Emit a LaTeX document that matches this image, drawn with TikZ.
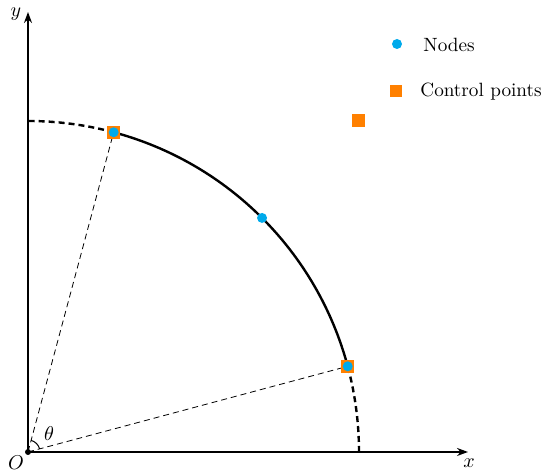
\documentclass[tikz,border=0pt]{standalone}
\usetikzlibrary{arrows.meta}
\definecolor{nodeblue}{RGB}{0,170,235}
\definecolor{ctrlorange}{RGB}{255,128,0}
\begin{document}
\begin{tikzpicture}[x=0.5pt,y=0.5pt,
  axis/.style={line width=0.8pt,-{Stealth[length=5.5pt,width=4pt]}},
  arcsolid/.style={line width=1.2pt},
  arcdash/.style={line width=1.2pt,dash pattern=on 3pt off 2pt},
  radial/.style={line width=0.4pt,dash pattern=on 3pt off 2pt},
  ndot/.style={circle,fill=nodeblue,inner sep=0pt,minimum size=5pt},
  cpt/.style={rectangle,fill=ctrlorange,inner sep=0pt,minimum size=6.5pt},
  lbl/.style={inner sep=0pt,font=\fontsize{9.6}{11}\selectfont}]
\useasboundingbox (-28,-22) rectangle (515,452);
% axes
\coordinate (O) at (0,0);
\coordinate (X) at (440,0);
\coordinate (Y) at (0,440);
\draw[axis] (O) -- (X);
\draw[axis] (O) -- (Y);
\node[lbl] (xl) at (441,-11) {$x$};
\node[lbl] (yl) at (-12,438) {$y$};
\node[lbl] (ol) at (-12,-11) {$O$};
% arc
\draw[arcdash] (331,0) arc[start angle=0,end angle=15,radius=331];
\draw[arcsolid] ({331*cos(15)},{331*sin(15)}) arc[start angle=15,end angle=75,radius=331];
\draw[arcdash] ({331*cos(75)},{331*sin(75)}) arc[start angle=75,end angle=90,radius=331];
% radial lines
\coordinate (A) at ({331*cos(15)},{331*sin(15)});
\coordinate (B) at ({331*cos(75)},{331*sin(75)});
\coordinate (M) at ({331*cos(45)},{331*sin(45)});
\draw[radial] (O) -- (A);
\draw[radial] (O) -- (B);
% angle
\draw[line width=0.5pt] ({12*cos(15)},{12*sin(15)}) arc[start angle=15,end angle=75,radius=12];
\node[lbl] (th) at (21,18) {$\theta$};
\fill (O) circle[radius=3];
% control points and nodes
\node[cpt] (cA) at (A) {};
\node[cpt] (cB) at (B) {};
\node[cpt] (cC) at (331,331) {};
\node[ndot] (nA) at (A) {};
\node[ndot] (nB) at (B) {};
\node[ndot] (nM) at (M) {};
% legend
\node[ndot] (lg1) at (369,408) {};
\node[lbl,anchor=west] (lt1) at (395,407) {Nodes};
\node[cpt,minimum size=6pt] (lg2) at (368,361) {};
\node[lbl,anchor=west] (lt2) at (392,360) {Control points};
\end{tikzpicture}
\end{document}
